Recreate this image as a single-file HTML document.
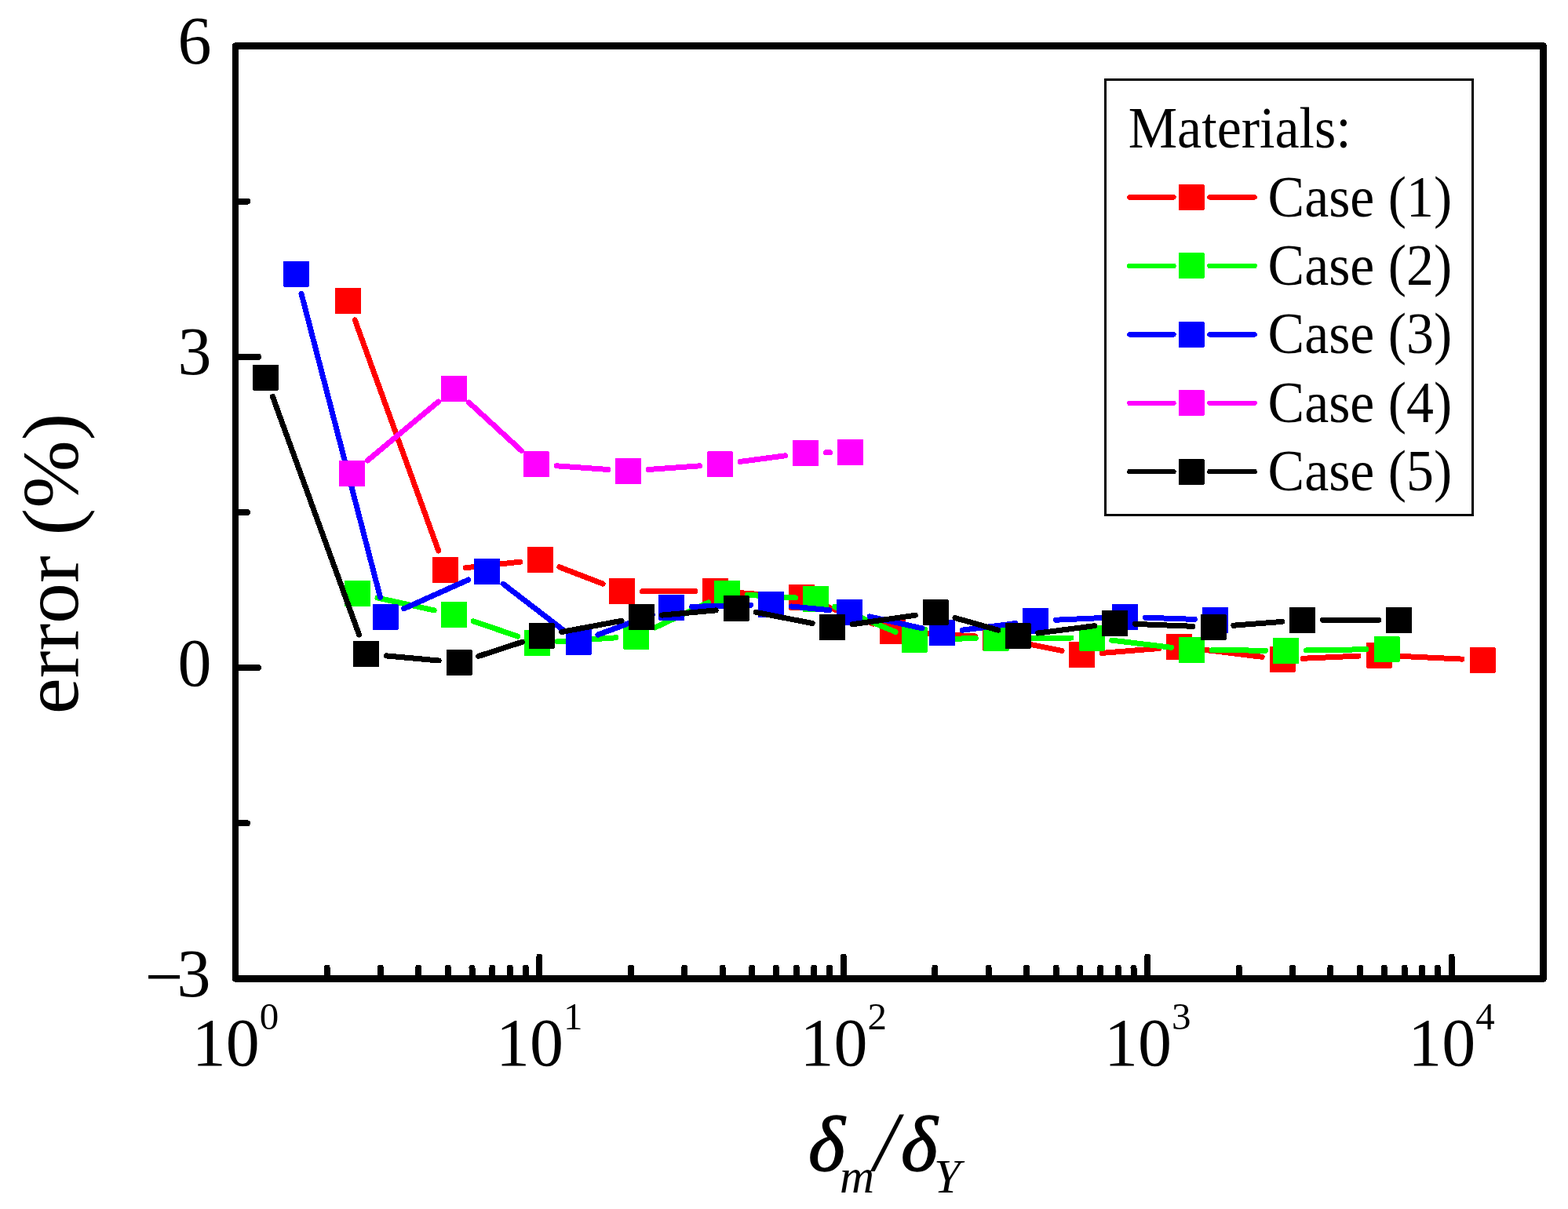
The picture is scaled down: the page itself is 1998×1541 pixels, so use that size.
<!DOCTYPE html><html><head><meta charset="utf-8"><style>html,body{margin:0;padding:0;background:#fff;}svg{display:block;shape-rendering:crispEdges;}text{font-family:"Liberation Serif","Times New Roman",serif;fill:#000;}</style></head><body>
<svg width="1998" height="1541" viewBox="0 0 1998 1541">
<rect width="1998" height="1541" fill="#fff"/>
<path d="M452.3,407.9L558.7,702.0M593.3,723.7L662.7,716.2M712.8,722.8L768.2,744.1M818.5,753.5L885.7,753.5M937.6,755.3L995.9,759.5M1046.2,770.4L1113.1,795.2M1163.4,805.9L1242.6,810.9M1294.0,817.6L1353.0,829.4M1404.4,832.4L1476.6,826.5M1528.3,827.5L1608.2,837.3M1660.0,839.3L1731.0,836.1M1783.0,836.3L1863.0,840.1" stroke="#ff0000" stroke-width="7.0" stroke-linecap="round" fill="none"/>
<rect x="427.0" y="366.9" width="33.0" height="33.0" rx="1" fill="#ff0000"/>
<rect x="551.0" y="710.0" width="33.0" height="33.0" rx="1" fill="#ff0000"/>
<rect x="672.0" y="696.9" width="33.0" height="33.0" rx="1" fill="#ff0000"/>
<rect x="776.0" y="737.0" width="33.0" height="33.0" rx="1" fill="#ff0000"/>
<rect x="895.2" y="737.0" width="33.0" height="33.0" rx="1" fill="#ff0000"/>
<rect x="1005.3" y="744.8" width="33.0" height="33.0" rx="1" fill="#ff0000"/>
<rect x="1121.0" y="787.8" width="33.0" height="33.0" rx="1" fill="#ff0000"/>
<rect x="1252.0" y="796.0" width="33.0" height="33.0" rx="1" fill="#ff0000"/>
<rect x="1362.0" y="818.0" width="33.0" height="33.0" rx="1" fill="#ff0000"/>
<rect x="1486.0" y="807.9" width="33.0" height="33.0" rx="1" fill="#ff0000"/>
<rect x="1617.5" y="823.9" width="33.0" height="33.0" rx="1" fill="#ff0000"/>
<rect x="1740.5" y="818.5" width="33.0" height="33.0" rx="1" fill="#ff0000"/>
<rect x="1872.5" y="824.9" width="33.0" height="33.0" rx="1" fill="#ff0000"/>
<path d="M481.0,762.0L553.1,777.9M603.1,791.8L659.8,811.1M710.3,817.7L785.0,812.8M834.4,800.0L902.9,767.8M952.4,758.3L1013.5,761.9M1063.5,773.4L1141.0,805.4M1191.0,814.8L1243.2,813.6M1295.2,813.1L1365.0,813.0M1416.8,816.1L1492.6,825.3M1544.4,828.6L1612.4,829.2M1664.4,829.0L1741.0,827.7" stroke="#00ff00" stroke-width="7.0" stroke-linecap="round" fill="none"/>
<rect x="439.1" y="739.9" width="33.0" height="33.0" rx="1" fill="#00ff00"/>
<rect x="562.0" y="767.0" width="33.0" height="33.0" rx="1" fill="#00ff00"/>
<rect x="667.9" y="802.9" width="33.0" height="33.0" rx="1" fill="#00ff00"/>
<rect x="794.4" y="794.6" width="33.0" height="33.0" rx="1" fill="#00ff00"/>
<rect x="909.9" y="740.2" width="33.0" height="33.0" rx="1" fill="#00ff00"/>
<rect x="1023.0" y="747.0" width="33.0" height="33.0" rx="1" fill="#00ff00"/>
<rect x="1148.5" y="798.8" width="33.0" height="33.0" rx="1" fill="#00ff00"/>
<rect x="1252.7" y="796.6" width="33.0" height="33.0" rx="1" fill="#00ff00"/>
<rect x="1374.5" y="796.5" width="33.0" height="33.0" rx="1" fill="#00ff00"/>
<rect x="1501.9" y="811.9" width="33.0" height="33.0" rx="1" fill="#00ff00"/>
<rect x="1621.9" y="812.9" width="33.0" height="33.0" rx="1" fill="#00ff00"/>
<rect x="1750.5" y="810.8" width="33.0" height="33.0" rx="1" fill="#00ff00"/>
<path d="M384.0,374.2L484.5,761.2M514.7,775.8L596.8,739.0M641.1,744.2L716.8,802.4M761.8,809.1L831.2,783.3M881.6,773.4L956.5,771.2M1008.4,773.0L1056.8,777.7M1108.1,785.9L1175.0,800.9M1226.2,803.2L1293.8,794.6M1345.6,790.2L1407.5,787.4M1459.5,787.2L1522.4,789.4" stroke="#0000ff" stroke-width="7.0" stroke-linecap="round" fill="none"/>
<rect x="361.0" y="332.5" width="33.0" height="33.0" rx="1" fill="#0000ff"/>
<rect x="474.5" y="769.9" width="33.0" height="33.0" rx="1" fill="#0000ff"/>
<rect x="604.0" y="711.9" width="33.0" height="33.0" rx="1" fill="#0000ff"/>
<rect x="720.9" y="801.7" width="33.0" height="33.0" rx="1" fill="#0000ff"/>
<rect x="839.1" y="757.7" width="33.0" height="33.0" rx="1" fill="#0000ff"/>
<rect x="966.0" y="753.9" width="33.0" height="33.0" rx="1" fill="#0000ff"/>
<rect x="1066.2" y="763.8" width="33.0" height="33.0" rx="1" fill="#0000ff"/>
<rect x="1183.9" y="790.0" width="33.0" height="33.0" rx="1" fill="#0000ff"/>
<rect x="1303.1" y="774.8" width="33.0" height="33.0" rx="1" fill="#0000ff"/>
<rect x="1417.0" y="769.8" width="33.0" height="33.0" rx="1" fill="#0000ff"/>
<rect x="1531.9" y="773.8" width="33.0" height="33.0" rx="1" fill="#0000ff"/>
<path d="M468.4,586.9L558.5,512.0M597.6,513.0L664.3,574.3M709.3,593.8L774.6,598.5M826.4,598.5L891.6,593.8M943.3,588.4L1000.7,580.8M1052.5,576.8L1057.5,576.8" stroke="#ff00ff" stroke-width="7.0" stroke-linecap="round" fill="none"/>
<rect x="431.9" y="587.0" width="33.0" height="33.0" rx="1" fill="#ff00ff"/>
<rect x="562.0" y="478.9" width="33.0" height="33.0" rx="1" fill="#ff00ff"/>
<rect x="666.9" y="575.4" width="33.0" height="33.0" rx="1" fill="#ff00ff"/>
<rect x="784.0" y="583.9" width="33.0" height="33.0" rx="1" fill="#ff00ff"/>
<rect x="901.0" y="575.4" width="33.0" height="33.0" rx="1" fill="#ff00ff"/>
<rect x="1010.0" y="560.8" width="33.0" height="33.0" rx="1" fill="#ff00ff"/>
<rect x="1067.0" y="559.8" width="33.0" height="33.0" rx="1" fill="#ff00ff"/>
<path d="M347.4,505.4L457.6,809.1M492.4,835.9L559.1,842.0M609.7,836.4L665.3,818.3M715.6,805.5L792.0,791.3M843.5,784.1L912.1,777.9M963.5,780.5L1035.1,794.5M1086.3,795.8L1166.3,784.2M1217.0,787.6L1272.0,803.2M1322.8,807.0L1394.7,797.7M1446.5,795.4L1520.0,798.3M1571.9,797.2L1633.6,792.4M1685.5,790.3L1756.7,790.3" stroke="#000000" stroke-width="7.0" stroke-linecap="round" fill="none"/>
<rect x="322.0" y="464.5" width="33.0" height="33.0" rx="1" fill="#000000"/>
<rect x="450.0" y="817.0" width="33.0" height="33.0" rx="1" fill="#000000"/>
<rect x="568.5" y="827.9" width="33.0" height="33.0" rx="1" fill="#000000"/>
<rect x="673.5" y="793.8" width="33.0" height="33.0" rx="1" fill="#000000"/>
<rect x="801.1" y="770.0" width="33.0" height="33.0" rx="1" fill="#000000"/>
<rect x="921.5" y="759.0" width="33.0" height="33.0" rx="1" fill="#000000"/>
<rect x="1044.1" y="783.0" width="33.0" height="33.0" rx="1" fill="#000000"/>
<rect x="1175.5" y="764.0" width="33.0" height="33.0" rx="1" fill="#000000"/>
<rect x="1280.5" y="793.8" width="33.0" height="33.0" rx="1" fill="#000000"/>
<rect x="1404.0" y="777.9" width="33.0" height="33.0" rx="1" fill="#000000"/>
<rect x="1529.5" y="782.8" width="33.0" height="33.0" rx="1" fill="#000000"/>
<rect x="1643.0" y="773.8" width="33.0" height="33.0" rx="1" fill="#000000"/>
<rect x="1766.2" y="773.8" width="33.0" height="33.0" rx="1" fill="#000000"/>
<rect x="300.0" y="58.5" width="1666.6" height="1189.0" fill="none" stroke="#000" stroke-width="8.5" stroke-linejoin="round"/>
<path d="M300.0,1247.5V1219.5M416.6,1247.5V1233.5M484.8,1247.5V1233.5M533.2,1247.5V1233.5M570.8,1247.5V1233.5M601.5,1247.5V1233.5M627.4,1247.5V1233.5M649.9,1247.5V1233.5M669.7,1247.5V1233.5M687.4,1247.5V1219.5M804.0,1247.5V1233.5M872.2,1247.5V1233.5M920.6,1247.5V1233.5M958.2,1247.5V1233.5M988.9,1247.5V1233.5M1014.8,1247.5V1233.5M1037.3,1247.5V1233.5M1057.1,1247.5V1233.5M1074.8,1247.5V1219.5M1191.4,1247.5V1233.5M1259.6,1247.5V1233.5M1308.0,1247.5V1233.5M1345.6,1247.5V1233.5M1376.3,1247.5V1233.5M1402.2,1247.5V1233.5M1424.7,1247.5V1233.5M1444.5,1247.5V1233.5M1462.2,1247.5V1219.5M1578.8,1247.5V1233.5M1647.0,1247.5V1233.5M1695.4,1247.5V1233.5M1733.0,1247.5V1233.5M1763.7,1247.5V1233.5M1789.6,1247.5V1233.5M1812.1,1247.5V1233.5M1831.9,1247.5V1233.5M1849.6,1247.5V1219.5M300.0,454.8H329.0M300.0,851.2H329.0M300.0,256.7H315.0M300.0,653.0H315.0M300.0,1049.3H315.0" stroke="#000" stroke-width="8" stroke-linecap="round" fill="none"/>
<text x="269.5" y="81.0" font-size="86" text-anchor="end">6</text>
<text x="269.5" y="477.3" font-size="86" text-anchor="end">3</text>
<text x="269.5" y="873.7" font-size="86" text-anchor="end">0</text>
<text x="185" y="1270.0" font-size="86"><tspan dy="3.5">−</tspan><tspan x="225.5" dy="-3.5">3</tspan></text>
<text x="244.7" y="1358" font-size="86">10<tspan font-size="49" dy="-45.7">0</tspan></text>
<text x="632.1" y="1358" font-size="86">10<tspan font-size="49" dy="-45.7">1</tspan></text>
<text x="1019.5" y="1358" font-size="86">10<tspan font-size="49" dy="-45.7">2</tspan></text>
<text x="1406.9" y="1358" font-size="86">10<tspan font-size="49" dy="-45.7">3</tspan></text>
<text x="1794.3" y="1358" font-size="86">10<tspan font-size="49" dy="-45.7">4</tspan></text>
<text transform="translate(98.7,910.3) rotate(-90) scale(1.019,1)" font-size="102">error (%)</text>
<text x="1030" y="1492.2" font-size="100" font-style="italic" stroke="#000" stroke-width="1.5">δ</text>
<text x="1070" y="1519.5" font-size="61" font-style="italic">m</text>
<text x="1113.7" y="1492.2" font-size="108" font-style="italic">/</text>
<text x="1148" y="1492.2" font-size="100" font-style="italic" stroke="#000" stroke-width="1.5">δ</text>
<text x="1190" y="1519.5" font-size="61" font-style="italic">Y</text>
<rect x="1408.5" y="101.5" width="467.5" height="554.5" fill="none" stroke="#000" stroke-width="3"/>
<text transform="matrix(0.9466,0,0,1,76.89,0)" x="1437.7" y="188.5" font-size="74">Materials:</text>
<path d="M1439.4,251.4H1495.4M1541.5,251.4H1598.5" stroke="#ff0000" stroke-width="6.5" stroke-linecap="round"/>
<rect x="1501.5" y="234.9" width="33.0" height="33.0" rx="1" fill="#ff0000"/>
<text transform="matrix(0.944,0,0,1,90.63,0)" x="1615.4" y="275.6" font-size="74">Case (1)</text>
<path d="M1439.4,338.9H1495.4M1541.5,338.9H1598.5" stroke="#00ff00" stroke-width="6.5" stroke-linecap="round"/>
<rect x="1501.5" y="322.35" width="33.0" height="33.0" rx="1" fill="#00ff00"/>
<text transform="matrix(0.944,0,0,1,90.63,0)" x="1615.4" y="363.1" font-size="74">Case (2)</text>
<path d="M1439.4,426.3H1495.4M1541.5,426.3H1598.5" stroke="#0000ff" stroke-width="6.5" stroke-linecap="round"/>
<rect x="1501.5" y="409.8" width="33.0" height="33.0" rx="1" fill="#0000ff"/>
<text transform="matrix(0.944,0,0,1,90.63,0)" x="1615.4" y="450.5" font-size="74">Case (3)</text>
<path d="M1439.4,513.8H1495.4M1541.5,513.8H1598.5" stroke="#ff00ff" stroke-width="6.5" stroke-linecap="round"/>
<rect x="1501.5" y="497.25" width="33.0" height="33.0" rx="1" fill="#ff00ff"/>
<text transform="matrix(0.944,0,0,1,90.63,0)" x="1615.4" y="538.0" font-size="74">Case (4)</text>
<path d="M1439.4,601.2H1495.4M1541.5,601.2H1598.5" stroke="#000000" stroke-width="6.5" stroke-linecap="round"/>
<rect x="1501.5" y="584.7" width="33.0" height="33.0" rx="1" fill="#000000"/>
<text transform="matrix(0.944,0,0,1,90.63,0)" x="1615.4" y="625.4" font-size="74">Case (5)</text>
</svg></body></html>
